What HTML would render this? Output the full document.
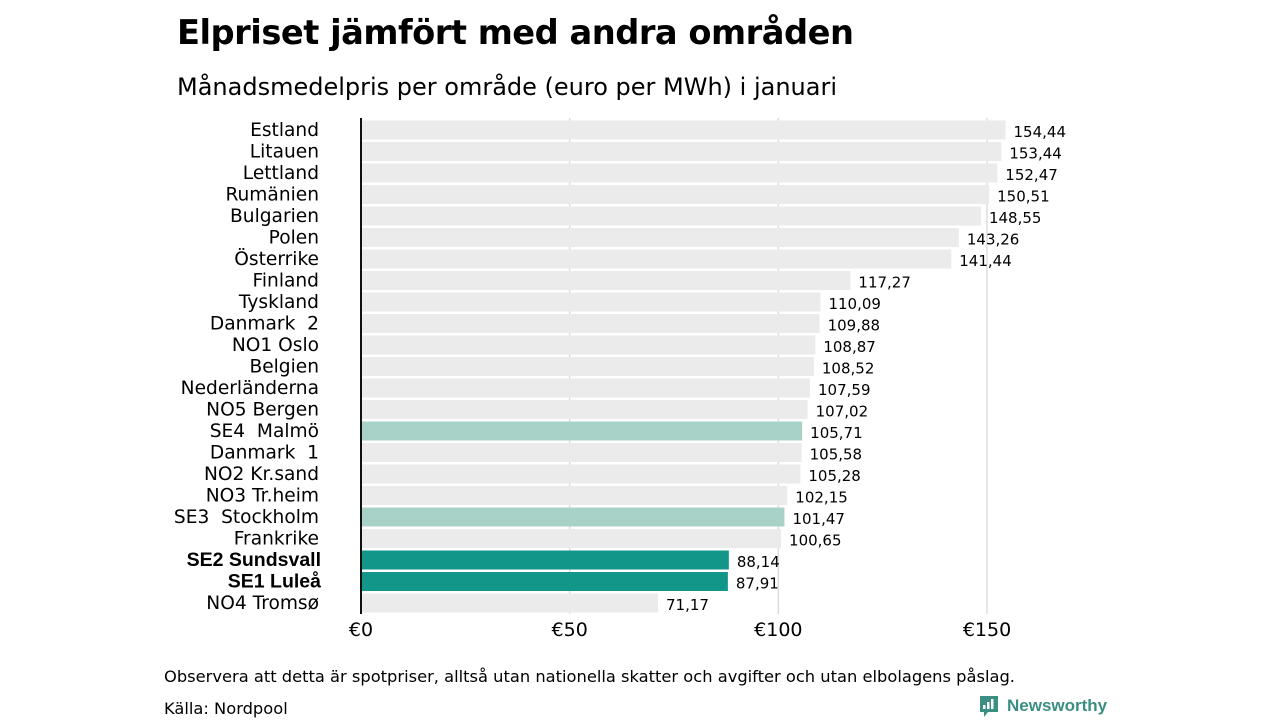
<!DOCTYPE html>
<html><head><meta charset="utf-8">
<style>
body{margin:0;width:1280px;height:720px;background:#fff;overflow:hidden;font-family:"Liberation Sans","DejaVu Sans",sans-serif;color:#111}
svg{position:absolute;left:0;top:0}
</style></head>
<body>
<svg width="1280" height="720" id="chart">
<text x="177" y="44" font-size="33.7" font-weight="bold" font-family="DejaVu Sans, sans-serif" style="letter-spacing:-0.5px">Elpriset jämfört med andra områden</text>
<text x="177" y="95" font-size="24" font-family="DejaVu Sans, sans-serif">Månadsmedelpris per område (euro per MWh) i januari</text>
<g id="grid"></g><g id="bars"></g><g id="labels"></g>
<line x1="361" y1="118" x2="361" y2="614" stroke="#111" stroke-width="2"/>
<text x="164" y="682" font-size="16.3" font-family="DejaVu Sans, sans-serif">Observera att detta är spotpriser, alltså utan nationella skatter och avgifter och utan elbolagens påslag.</text>
<text x="164" y="714" font-size="16.3" font-family="DejaVu Sans, sans-serif">Källa: Nordpool</text>
<g>
<path d="M980 696 h18 v16 h-10 l-4 5 v-5 h-4 z" fill="#3a8f82"/>
<rect x="983" y="705" width="2.5" height="4" fill="#fff"/><rect x="987" y="702" width="2.5" height="7" fill="#fff"/><rect x="991" y="699" width="2.5" height="10" fill="#fff"/>
<text x="1007" y="711" font-size="17" font-weight="bold" fill="#3a8f82">Newsworthy</text>
</g>
</svg>
<script>
const categories=["Estland","Litauen","Lettland","Rumänien","Bulgarien","Polen","Österrike","Finland","Tyskland","Danmark  2","NO1 Oslo","Belgien","Nederländerna","NO5 Bergen","SE4  Malmö","Danmark  1","NO2 Kr.sand","NO3 Tr.heim","SE3  Stockholm","Frankrike","SE2 Sundsvall","SE1 Luleå","NO4 Tromsø"];
const values=[154.44,153.44,152.47,150.51,148.55,143.26,141.44,117.27,110.09,109.88,108.87,108.52,107.59,107.02,105.71,105.58,105.28,102.15,101.47,100.65,88.14,87.91,71.17];
const ticks=[0,50,100,150];
const tickLabels=["€0","€50","€100","€150"];
const NS="http://www.w3.org/2000/svg";
const x=v=>361+v*(626/150);
const yc=i=>130+i*21.5;
function mk(t,a,p){const e=document.createElementNS(NS,t);for(const k in a)e.setAttribute(k,a[k]);p.appendChild(e);return e;}
const grid=document.getElementById('grid'),bars=document.getElementById('bars'),labels=document.getElementById('labels');
ticks.forEach((t,i)=>{
  if(t>0){const l=mk('line',{x1:x(t),x2:x(t),y1:118,y2:614,stroke:'#ddd','stroke-width':1.5},grid);
  
  }
  const tx=mk('text',{x:x(t),y:636,'font-size':19,'text-anchor':'middle','font-family':'DejaVu Sans, sans-serif'},labels);
  tx.textContent=tickLabels[i];
  
  
});
categories.forEach((c,i)=>{
  let fill='#ebebeb',bold=false;
  if(c.startsWith('SE4')||c.startsWith('SE3'))fill='#a8d1c8';
  if(c.startsWith('SE2')||c.startsWith('SE1')){fill='#13968a';bold=true;}
  const r=mk('rect',{x:362,y:yc(i)-9.5,width:x(values[i])-362,height:19,fill:fill},bars);
  
  
  const lt=mk('text',{x:bold?321:319,y:yc(i)+6,'font-size':bold?19.5:18.6,'text-anchor':'end','font-weight':bold?'bold':'normal','font-family':bold?'Liberation Sans, sans-serif':'DejaVu Sans, sans-serif'},labels);
  lt.style.whiteSpace='pre';
  lt.textContent=c;
  
  
  const vt=mk('text',{x:x(values[i])+8,y:yc(i)+7,'font-size':15,'font-family':'DejaVu Sans, sans-serif'},labels);
  vt.textContent=values[i].toFixed(2).replace('.',',');
  
  
});
</script>
</body></html>
